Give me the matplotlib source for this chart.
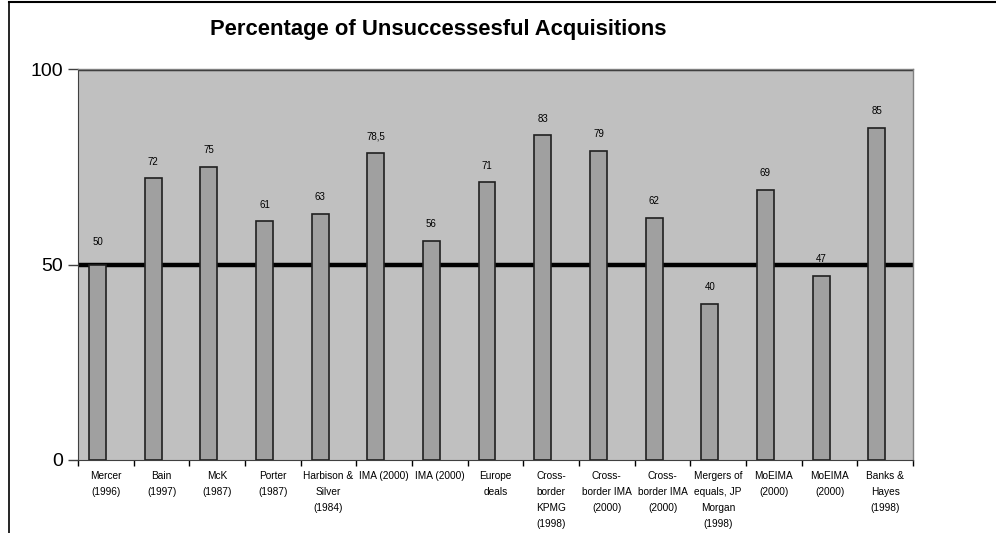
import matplotlib
matplotlib.use("Agg")
import matplotlib.pyplot as plt
from matplotlib.lines import Line2D

plt.rcParams['font.family'] = ['Liberation Sans', 'DejaVu Sans']

categories = [
    "Mercer\n(1996)", "Bain\n(1997)", "McK\n(1987)", "Porter\n(1987)",
    "Harbison &\nSilver\n(1984)", "IMA (2000)", "IMA (2000)", "Europe\ndeals",
    "Cross-\nborder\nKPMG\n(1998)", "Cross-\nborder IMA\n(2000)",
    "Cross-\nborder IMA\n(2000)", "Mergers of\nequals, JP\nMorgan\n(1998)",
    "MoEIMA\n(2000)", "MoEIMA\n(2000)", "Banks &\nHayes\n(1998)",
]
values = [50, 72, 75, 61, 63, 78.5, 56, 71, 83, 79, 62, 40, 69, 47, 85]
value_labels = ["50", "72", "75", "61", "63", "78,5", "56", "71", "83",
                "79", "62", "40", "69", "47", "85"]
y_ticks = [0, 50, 100]

W, H = 996, 533
fig = plt.figure(figsize=(W / 100, H / 100), dpi=100)
ax = fig.add_axes([78 / W, 1 - 460 / H, (913 - 78) / W, (460 - 69) / H])
ax.set_facecolor("#c0c0c0")

n = len(values)
xs = [i - 0.15 for i in range(n)]
ax.bar(xs, values, width=0.3, color="#a0a0a0", edgecolor="#202020",
       linewidth=1.2, zorder=3)
for x, v, s in zip(xs, values, value_labels):
    offset = 4.5 if v == 50 else 3
    ax.text(x, v + offset, s, ha="center", va="bottom", fontsize=7, zorder=4)

ax.axhline(50, color="black", linewidth=3.2, zorder=2)
ax.axhline(100, color="#303030", linewidth=2.5, zorder=2)

ax.set_xlim(-0.5, n - 0.5)
ax.set_ylim(0, 100)
ax.set_yticks(y_ticks)
ax.set_yticklabels([str(t) for t in y_ticks], fontsize=14)
ax.tick_params(axis="y", length=7, width=1, pad=4, color="#404040")

# category ticks sit on the boundaries, labels at the centres
ax.set_xticks([i - 0.5 for i in range(n + 1)])
ax.set_xticklabels([])
ax.tick_params(axis="x", length=4, width=1, direction="out")
for i, lab in enumerate(categories):
    ax.text(i, -2.8, lab, ha="center", va="top", fontsize=7.3,
            linespacing=1.75, transform=ax.transData, clip_on=False)

for side in ["top", "right"]:
    ax.spines[side].set_color("#808080")
    ax.spines[side].set_linewidth(1)
ax.spines["left"].set_color("#404040")
ax.spines["bottom"].set_color("#404040")

fig.text(438 / W, 1 - 30 / H, "Percentage of Unsuccessesful Acquisitions",
         ha="center", va="center", fontsize=15.8, fontweight="bold")

# outer frame lines along the top and left edges
fig.add_artist(Line2D([9 / W, 1], [1 - 2 / H, 1 - 2 / H],
                      transform=fig.transFigure, color="black", linewidth=1.5))
fig.add_artist(Line2D([9 / W, 9 / W], [0, 1 - 2 / H],
                      transform=fig.transFigure, color="black", linewidth=1.2))

fig.savefig("out.png", dpi=100)
